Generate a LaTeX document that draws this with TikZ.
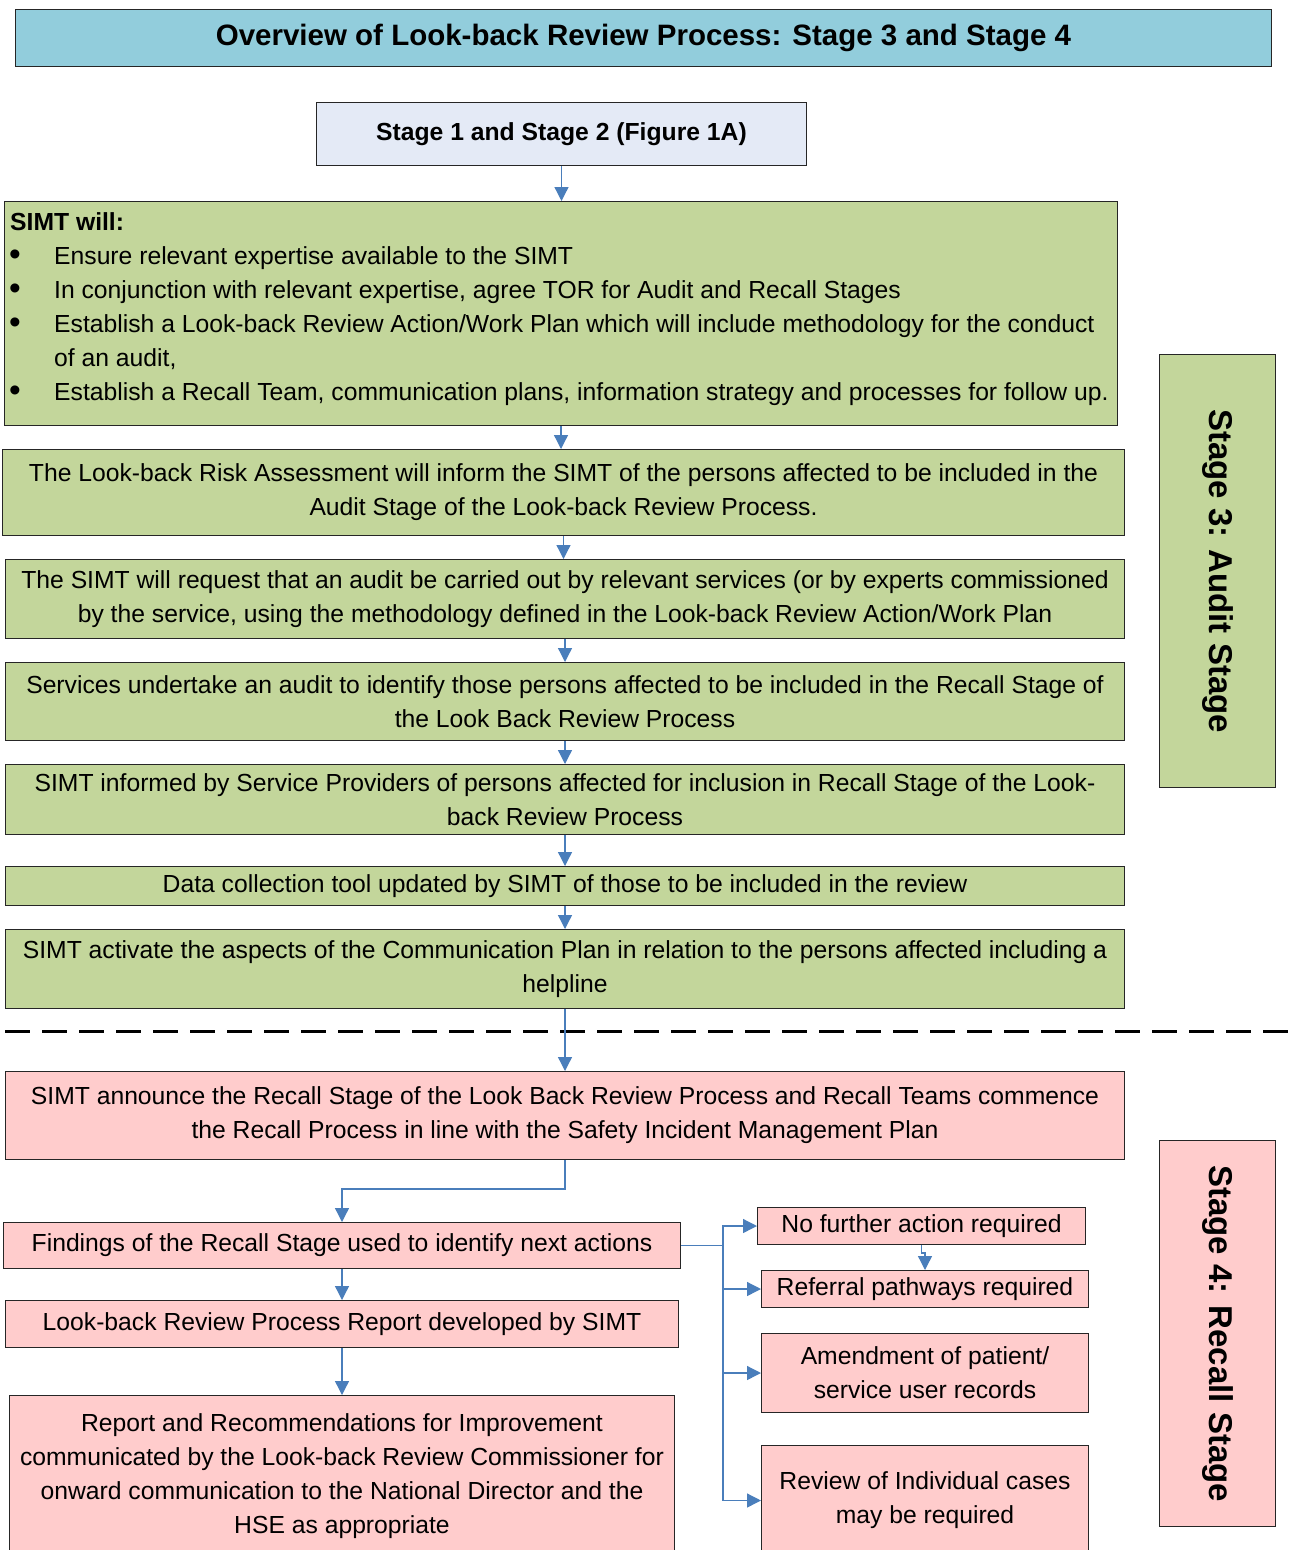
\documentclass[tikz,border=0pt]{standalone}
\usepackage{fontspec}
\setmainfont{Liberation Sans}
\usetikzlibrary{arrows.meta}
\definecolor{grn}{HTML}{C3D69B}
\definecolor{pnk}{HTML}{FFCCCC}
\definecolor{ttl}{HTML}{92CDDC}
\definecolor{lbl}{HTML}{E4EAF6}
\definecolor{arrc}{HTML}{4A7EBB}
\newcommand\bul{\hspace*{-1pt}\makebox[45pt][l]{\raisebox{-1pt}{\scalebox{1.35}{\textbullet}}}}
\begin{document}
\begin{tikzpicture}[x=1pt,y=-1pt,
 box/.style={draw=black!85, line width=1pt, inner sep=0pt, align=center, anchor=north west, font=\fontsize{24.7}{34}\selectfont},
 gbox/.style={box, fill=grn},
 pbox/.style={box, fill=pnk},
 arr/.style={draw=arrc, line width=1.3pt, -{Triangle[width=14pt,length=14pt]}},
 conn/.style={draw=arrc, line width=1.3pt},
 side/.style={box},
 sidetxt/.style={rotate=-90, font=\fontsize{33}{36}\selectfont\bfseries, inner sep=0pt}]
\useasboundingbox (0,0) rectangle (1294,1550);
\clip (0,0) rectangle (1294,1550);
% title
\node[box, fill=ttl, minimum width=1256, minimum height=57, font=\fontsize{29.5}{34}\selectfont\bfseries] (title) at (15,9) {Overview of Look-back Review Process: Stage 3 and Stage 4};
\node[box, fill=lbl, minimum width=490, minimum height=63, font=\fontsize{24.7}{34}\selectfont\bfseries] (s12) at (316,102) {Stage 1 and Stage 2 (Figure 1A)};
% SIMT
\node[gbox, minimum width=1113, minimum height=224] (simt) at (4,201) {};
\node[anchor=north west, inner sep=0pt, align=left, font=\fontsize{24.7}{34}\selectfont] (simttxt) at (10,212) {\textbf{SIMT will:}\\
\bul Ensure relevant expertise available to the SIMT\\
\bul In conjunction with relevant expertise, agree TOR for Audit and Recall Stages\\
\bul Establish a Look-back Review Action/Work Plan which will include methodology for the conduct\\
\hspace*{44pt}of an audit,\\
\bul Establish a Recall Team, communication plans, information strategy and processes for follow up.};
\node[gbox, minimum width=1122, minimum height=86] (b2) at (2,449) {The Look-back Risk Assessment will inform the SIMT of the persons affected to be included in the\\Audit Stage of the Look-back Review Process.};
\node[gbox, minimum width=1119, minimum height=79] (b3) at (5,559) {The SIMT will request that an audit be carried out by relevant services (or by experts commissioned\\by the service, using the methodology defined in the Look-back Review Action/Work Plan};
\node[gbox, minimum width=1119, minimum height=78] (b4) at (5,662) {Services undertake an audit to identify those persons affected to be included in the Recall Stage of\\the Look Back Review Process};
\node[gbox, minimum width=1119, minimum height=70] (b5) at (5,764) {SIMT informed by Service Providers of persons affected for inclusion in Recall Stage of the Look-\\back Review Process};
\node[gbox, minimum width=1119, minimum height=39] (b6) at (5,866) {Data collection tool updated by SIMT of those to be included in the review};
\node[gbox, minimum width=1119, minimum height=79] (b7) at (5,929) {SIMT activate the aspects of the Communication Plan in relation to the persons affected including a\\helpline};
% stage 4
\node[pbox, minimum width=1119, minimum height=88] (recall) at (5,1071) {SIMT announce the Recall Stage of the Look Back Review Process and Recall Teams commence\\the Recall Process in line with the Safety Incident Management Plan};
\node[pbox, minimum width=677, minimum height=46] (find) at (3,1222) {Findings of the Recall Stage used to identify next actions};
\node[pbox, minimum width=673, minimum height=47] (rep) at (5,1300) {Look-back Review Process Report developed by SIMT};
\node[pbox, minimum width=665, minimum height=161] (fin) at (9,1395) {Report and Recommendations for Improvement\\communicated by the Look-back Review Commissioner for\\onward communication to the National Director and the\\HSE as appropriate};
\node[pbox, minimum width=328, minimum height=37] (nf) at (757,1207) {No further action required};
\node[pbox, minimum width=327, minimum height=37] (ref) at (761,1270) {Referral pathways required};
\node[pbox, minimum width=327, minimum height=79] (amd) at (761,1333) {Amendment of patient/\\service user records};
\node[pbox, minimum width=327, minimum height=110] (rev) at (761,1445) {Review of Individual cases\\may be required};
% side labels
\node[side, fill=grn, minimum width=116, minimum height=433] (s3) at (1159,354) {};
\node[sidetxt] (s3t) at (s3.center) {Stage 3: Audit Stage};
\node[side, fill=pnk, minimum width=116, minimum height=386] (s4) at (1159,1140) {};
\node[sidetxt] (s4t) at (s4.center) {Stage 4: Recall Stage};
% dashed divider
\coordinate (dl) at (5,1031);
\coordinate (dr) at (1294,1031);
\draw[line width=3pt, dash pattern=on 25pt off 12pt] (dl) -- (dr);
% arrows
\draw[arr] (s12.south) -- (s12.south |- simt.north);
\draw[arr] (simt.south) -- (simt.south |- b2.north);
\draw[arr] (b2.south) -- (b2.south |- b3.north);
\draw[arr] (b3.south) -- (b3.south |- b4.north);
\draw[arr] (b4.south) -- (b4.south |- b5.north);
\draw[arr] (b5.south) -- (b5.south |- b6.north);
\draw[arr] (b6.south) -- (b6.south |- b7.north);
\draw[arr] (b7.south) -- (b7.south |- recall.north);
\draw[arr] (recall.south) -- ++(0,29) -| (find.north);
\draw[arr] (find.south) -- (find.south |- rep.north);
\draw[arr] (rep.south) -- (rep.south |- fin.north);
\draw[conn] (find.east) -- ++(42,0) coordinate (j);
\draw[arr] (j) |- (nf.west);
\draw[arr] (j) |- (ref.west);
\draw[arr] (j) |- (amd.west);
\draw[arr] (j) |- (rev.west);
\draw[arr] (nf.south) -- ++(0,8) -| (ref.north);
\end{tikzpicture}
\end{document}
